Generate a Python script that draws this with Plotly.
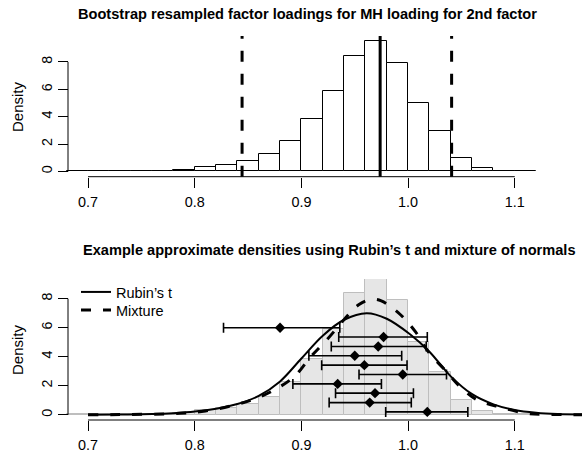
import plotly.graph_objects as go

# ---- data -------------------------------------------------------------
bin_width = 0.02
bin_left = [0.68, 0.70, 0.72, 0.74, 0.76, 0.78, 0.80, 0.82, 0.84, 0.86, 0.88,
            0.90, 0.92, 0.94, 0.96, 0.98, 1.00, 1.02, 1.04, 1.06, 1.08, 1.10]
boot_density = [0.02, 0.03, 0.03, 0.04, 0.06, 0.13, 0.30, 0.44, 0.73, 1.26, 2.23,
                3.83, 5.89, 8.41, 9.51, 7.92, 5.03, 2.98, 1.01, 0.27, 0.07, 0.02]

ci_lower = 0.8444
point_estimate = 0.9738
ci_upper = 1.0408

rubin_x = [0.700, 0.730, 0.760, 0.780, 0.800, 0.820, 0.840, 0.860, 0.880, 0.900,
           0.920, 0.940, 0.9612, 0.980, 1.0018, 1.020, 1.040, 1.060, 1.080, 1.100,
           1.120, 1.140, 1.163]
rubin_y = [0.00, 0.02, 0.05, 0.11, 0.22, 0.42, 0.74, 1.30, 2.30, 3.88,
           5.45, 6.55, 7.00, 6.62, 5.55, 4.35, 2.65, 1.42, 0.72, 0.33,
           0.14, 0.05, 0.02]

mix_x = [0.700, 0.750, 0.786, 0.810, 0.835, 0.8565, 0.8775, 0.894, 0.908, 0.9237,
         0.954, 0.966, 0.9749, 0.9924, 1.007, 1.0196, 1.0352, 1.0493, 1.0649,
         1.0868, 1.111, 1.130, 1.163]
mix_y = [0.00, 0.03, 0.10, 0.26, 0.63, 1.10, 1.83, 2.68, 3.94, 5.16,
         7.60, 7.95, 7.85, 6.93, 5.71, 4.28, 3.04, 1.90, 1.02,
         0.52, 0.10, 0.03, 0.00]

imp_y = [0.20, 0.84, 1.49, 2.13, 2.78, 3.42, 4.07, 4.71, 5.36, 6.00]
imp_mean = [1.018, 0.964, 0.969, 0.934, 0.995, 0.959, 0.950, 0.972, 0.977, 0.880]
imp_lo = [0.979, 0.926, 0.932, 0.892, 0.954, 0.919, 0.907, 0.928, 0.935, 0.827]
imp_hi = [1.056, 1.003, 1.005, 0.975, 1.036, 0.999, 0.994, 1.017, 1.018, 0.936]

x_ticks = [0.7, 0.8, 0.9, 1.0, 1.1]
x_tick_text = ["0.7", "0.8", "0.9", "1.0", "1.1"]
y_ticks = [0, 2, 4, 6, 8]
y_tick_text = ["0", "2", "4", "6", "8"]

# ---- layout geometry (pixels) ----------------------------------------
W, H = 582, 453
FONT = "Liberation Sans"
AXIS_PX = 68          # left axis position
bin_mid = [b + bin_width / 2 for b in bin_left]


def py(px):
    return 1 - px / H


x_range = [0.6175, 1.163]
top_dom = [py(176.7), py(36)]
bot_dom = [py(420), py(279)]
top_ymax = max(boot_density)
top_range = [-0.04 * top_ymax, 1.04 * top_ymax]
bot_range = [-0.36, 9.36]

fig = go.Figure()

# top: bootstrap histogram
fig.add_trace(go.Bar(
    x=bin_mid, y=boot_density, width=bin_width,
    marker=dict(color="white", line=dict(color="black", width=1)),
    xaxis="x", yaxis="y", showlegend=False, hoverinfo="skip"))

# bottom: same histogram in grey
fig.add_trace(go.Bar(
    x=bin_mid, y=boot_density, width=bin_width,
    marker=dict(color="#E6E6E6", line=dict(color="#BEBEBE", width=1)),
    xaxis="x2", yaxis="y2", showlegend=False, hoverinfo="skip"))

fig.add_trace(go.Scatter(
    x=rubin_x, y=rubin_y, mode="lines", name="Rubin\u2019s t", legend="legend",
    line=dict(color="black", width=2, shape="spline", smoothing=1.0),
    xaxis="x2", yaxis="y2"))

fig.add_trace(go.Scatter(
    x=mix_x, y=mix_y, mode="lines", name="Mixture", legend="legend2",
    line=dict(color="black", width=3, dash="10px,12px", shape="spline", smoothing=1.0),
    xaxis="x2", yaxis="y2"))

fig.add_trace(go.Scatter(
    x=imp_mean, y=imp_y, mode="markers", showlegend=False,
    marker=dict(symbol="diamond", size=8, color="black"),
    error_x=dict(type="data", symmetric=False,
                 array=[h - m for h, m in zip(imp_hi, imp_mean)],
                 arrayminus=[m - l for m, l in zip(imp_mean, imp_lo)],
                 color="black", thickness=1.6, width=5),
    xaxis="x2", yaxis="y2"))

# interval lines on the top panel
shapes = []
for v, dash in [(ci_lower, "11px,12px"), (point_estimate, "solid"), (ci_upper, "11px,12px")]:
    shapes.append(dict(type="line", xref="x", yref="y domain", x0=v, x1=v, y0=0, y1=1,
                       line=dict(color="black", width=3, dash=dash)))

# axis lines spanning only the tick range
for xr, yr in [("x", "y"), ("x2", "y2")]:
    shapes.append(dict(type="line", xref=xr, yref=yr + " domain",
                       x0=x_ticks[0], x1=x_ticks[-1], y0=0, y1=0,
                       line=dict(color="black", width=1)))
    shapes.append(dict(type="line", xref="paper", yref=yr,
                       x0=AXIS_PX / W, x1=AXIS_PX / W, y0=y_ticks[0], y1=y_ticks[-1],
                       line=dict(color="black", width=1)))

tickfont = dict(family=FONT, size=14.4, color="black")
xaxis_common = dict(range=x_range, domain=[0, 1], showgrid=False, zeroline=False,
                    showline=False, ticks="outside", ticklen=10, tickwidth=1,
                    tickcolor="black", tickvals=x_ticks, ticktext=x_tick_text,
                    tickfont=tickfont, ticklabelstandoff=2, fixedrange=True)
yaxis_common = dict(showgrid=False, zeroline=False, showline=False, ticks="outside",
                    ticklen=10, tickwidth=1, tickcolor="black", tickvals=y_ticks,
                    ticktext=y_tick_text, tickfont=tickfont, tickangle=-90,
                    anchor="free", position=AXIS_PX / W, fixedrange=True)

title_font = dict(family=FONT, size=14.6, color="black")
label_font = dict(family=FONT, size=15, color="black")
legend_font = dict(family=FONT, size=14.5, color="black")
annotations = [
    dict(text="<b>Bootstrap resampled factor loadings for MH loading for 2nd factor</b>",
         x=307 / W, y=py(14), xref="paper", yref="paper", showarrow=False,
         xanchor="center", yanchor="middle", font=title_font),
    dict(text="<b>Example approximate densities using Rubin\u2019s t and mixture of normals</b>",
         x=329 / W, y=py(250), xref="paper", yref="paper", showarrow=False,
         xanchor="center", yanchor="middle", font=title_font),
    dict(text="Density", x=17 / W, y=py(107), xref="paper", yref="paper", showarrow=False,
         textangle=-90, xanchor="center", yanchor="middle", font=label_font),
    dict(text="Density", x=17 / W, y=py(350), xref="paper", yref="paper", showarrow=False,
         textangle=-90, xanchor="center", yanchor="middle", font=label_font),
]

legend_common = dict(x=76 / W, xanchor="left", yanchor="top",
                     bgcolor="rgba(0,0,0,0)", font=legend_font, itemwidth=30)

fig.update_layout(
    width=W, height=H, margin=dict(l=0, r=0, t=0, b=0),
    paper_bgcolor="white", plot_bgcolor="white",
    bargap=0, barmode="overlay",
    xaxis=dict(xaxis_common, anchor="y"),
    xaxis2=dict(xaxis_common, anchor="y2"),
    yaxis=dict(yaxis_common, domain=top_dom, range=top_range),
    yaxis2=dict(yaxis_common, domain=bot_dom, range=bot_range),
    shapes=shapes, annotations=annotations,
    legend=dict(legend_common, y=py(276)),
    legend2=dict(legend_common, y=py(294)),
    showlegend=True,
)

fig.write_html("out.html")
